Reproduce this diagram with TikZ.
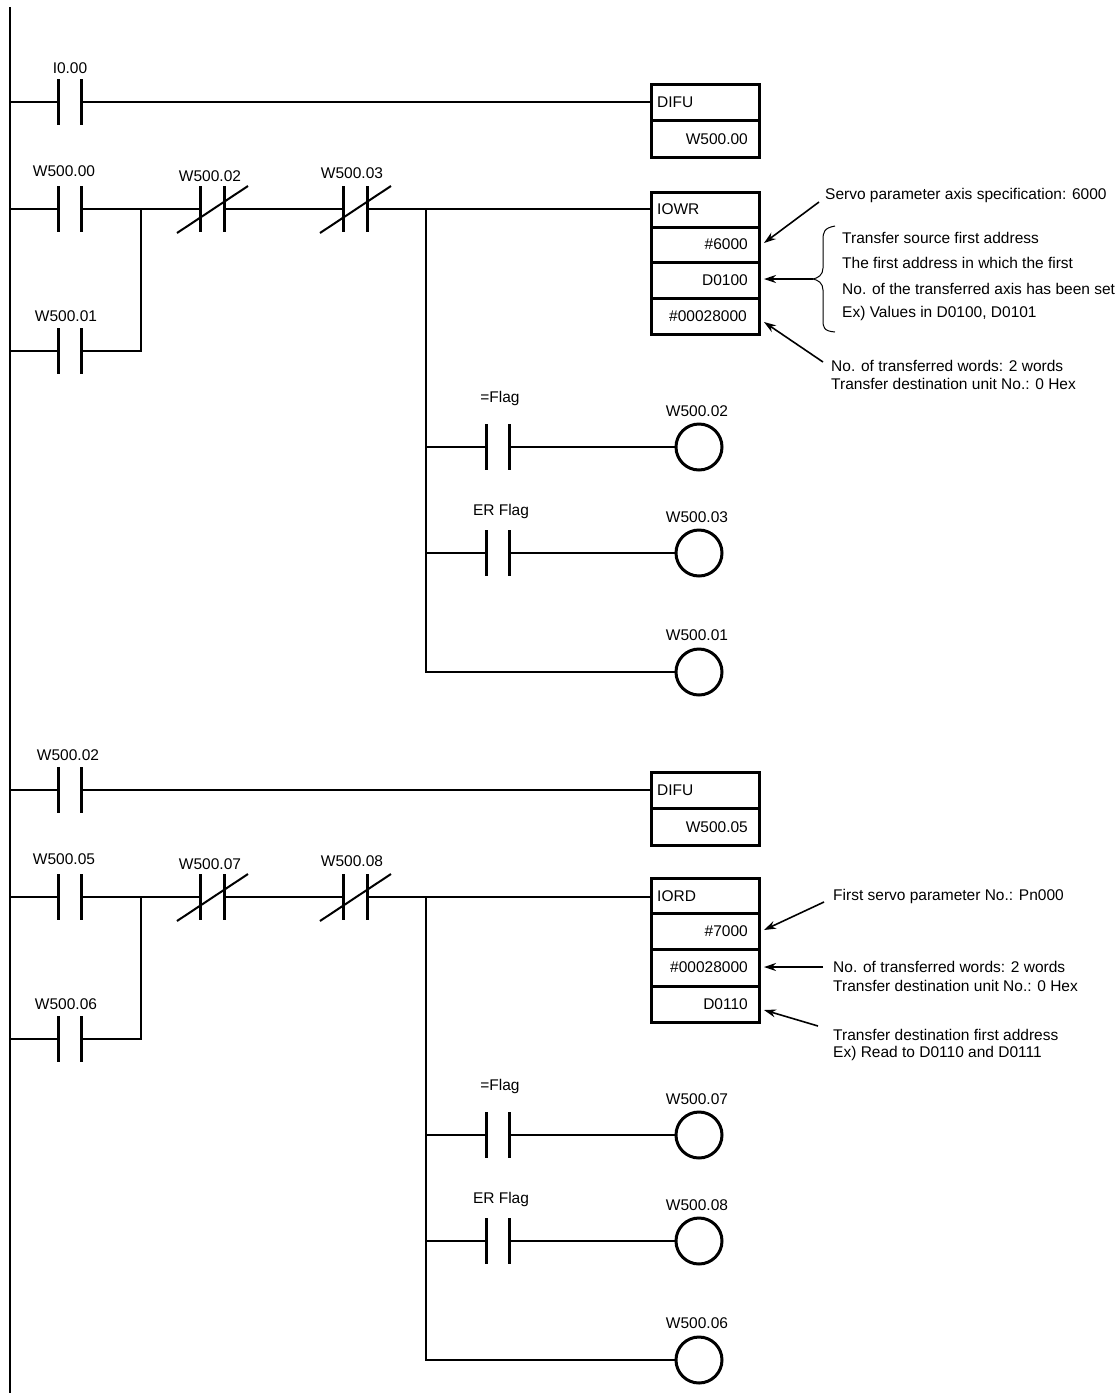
\documentclass[tikz,border=0pt]{standalone}
\usepackage{fontspec}
\setmainfont{Liberation Sans}
\usetikzlibrary{arrows.meta}
\begin{document}
\begin{tikzpicture}[x=1pt,y=-1pt,
  font=\fontsize{15.5}{18}\selectfont,
  wire/.style={line width=1.3pt},
  bar/.style={line width=3pt},
  boxline/.style={line width=3pt},
  coil/.style={circle,draw,line width=3pt,minimum size=46pt,inner sep=0pt},
  lbl/.style={inner sep=0pt,anchor=center},
  note/.style={inner sep=0pt,anchor=west},
  arr/.style={line width=1.6pt,-{Stealth[length=12pt,width=8pt]}},
  no/.pic={\draw[bar] (-11.5,-23)--(-11.5,23); \draw[bar] (11.5,-23)--(11.5,23);},
  nc/.pic={\draw[bar] (-12,-23)--(-12,23); \draw[bar] (12,-23)--(12,23); \draw[line width=2pt] (-35,24)--(36,-23);}
]
\useasboundingbox (0,0) rectangle (1117,1393);
\clip (0,0) rectangle (1117,1393);
\draw[wire] (10,7) -- (10,1393);

\newcommand{\ladderblock}[6]{%
\begin{scope}[yshift=-#6pt]
 % rung 1
 \coordinate (#1r1) at (10,102);
 \pic at (69.5,102) {no};
 \node[lbl] (#1l1) at (68,66) {#2};
 \coordinate (#1d) at (651,102);
 \draw[wire] (#1r1) -- (58,102) (81,102) -- (#1d);
 % rung 2
 \coordinate (#1r2) at (10,209);
 \coordinate (#1r3) at (10,351);
 \pic at (69.5,209) {no};
 \pic at (69.5,351) {no};
 \node[lbl] (#1l2) at (64,171) {#3};
 \node[lbl] (#1l3) at (66,316) {#4};
 \pic at (212,209) {nc};
 \pic at (355,209) {nc};
 \node[lbl] (#1l4) at (210,176) {#5};
 \node[lbl] (#1l5) at (352,173) {#3\hspace{-0pt}};
 \coordinate (#1b) at (141,209);
 \coordinate (#1k) at (426,209);
 \coordinate (#1e) at (651,209);
 \draw[wire] (#1r2) -- (58,209) (81,209) -- (#1b) -- (200,209) (224,209) -- (343,209) (367,209) -- (#1k) -- (#1e);
 \draw[wire] (#1r3) -- (58,351) (81,351) -- (141,351) -- (#1b);
 % outputs
 \pic at (497.5,447) {no};
 \pic at (497.5,553) {no};
 \node[lbl] (#1f1) at (500,398) {=Flag};
 \node[lbl] (#1f2) at (501,511) {ER Flag};
 \node[coil] (#1c1) at (699,447) {};
 \node[coil] (#1c2) at (699,553) {};
 \node[coil] (#1c3) at (699,672) {};
 \node[lbl] (#1cl1) at (697,411) {#5};
 \node[lbl] (#1cl2) at (697,517) {#6lbl};
 \node[lbl] (#1cl3) at (697,635) {#4};
 \draw[wire] (#1k) -- (426,672) -- (#1c3.west);
 \draw[wire] (426,447) -- (486,447) (509,447) -- (#1c1.west);
 \draw[wire] (426,553) -- (486,553) (509,553) -- (#1c2.west);
\end{scope}}

% --- block A written out ---
\begin{scope}
 \coordinate (ar1) at (10,102);
 \pic at (69.5,102) {no};
 \node[lbl] (al1) at (70,68) {I0.00};
 \draw[wire] (ar1) -- (58,102) (81,102) -- (651,102);
 \pic at (69.5,209) {no};
 \pic at (69.5,351) {no};
 \node[lbl] (al2) at (64,171) {W500.00};
 \node[lbl] (al3) at (66,316) {W500.01};
 \pic at (212,209) {nc};
 \pic at (355,209) {nc};
 \node[lbl] (al4) at (210,176) {W500.02};
 \node[lbl] (al5) at (352,173) {W500.03};
 \coordinate (ab) at (141,209);
 \coordinate (ak) at (426,209);
 \draw[wire] (10,209) -- (58,209) (81,209) -- (ab) -- (200,209) (224,209) -- (343,209) (367,209) -- (ak) -- (651,209);
 \draw[wire] (10,351) -- (58,351) (81,351) -- (141,351) -- (ab);
 \pic at (497.5,447) {no};
 \pic at (497.5,553) {no};
 \node[lbl] (af1) at (500,398) {=Flag};
 \node[lbl] (af2) at (501,511) {ER Flag};
 \node[coil] (ac1) at (699,447) {};
 \node[coil] (ac2) at (699,553) {};
 \node[coil] (ac3) at (699,672) {};
 \node[lbl] (acl1) at (697,411) {W500.02};
 \node[lbl] (acl2) at (697,517) {W500.03};
 \node[lbl] (acl3) at (697,635) {W500.01};
 \draw[wire] (ak) -- (426,672) -- (ac3.west);
 \draw[wire] (426,447) -- (486,447) (509,447) -- (ac1.west);
 \draw[wire] (426,553) -- (486,553) (509,553) -- (ac2.west);
 % DIFU
 \draw[boxline] (651,84) rectangle (759,157) (651,120) -- (759,120);
 \node[note] (adifu) at (657,102) {DIFU};
 \node[inner sep=0pt,anchor=east] (adout) at (748,139) {W500.00};
 % IOWR
 \draw[boxline] (651,192) rectangle (759,334) (651,227) -- (759,227) (651,262) -- (759,262) (651,298) -- (759,298);
 \node[note] (aname) at (657,209) {IOWR};
 \node[inner sep=0pt,anchor=east] (ap1) at (748,244) {\#6000};
 \node[inner sep=0pt,anchor=east] (ap2) at (748,280) {D0100};
 \node[inner sep=0pt,anchor=east] (ap3) at (747,316) {\#00028000};
 \node[note] (an1) at (825,195) {Servo parameter axis specification: 6000};
 \draw[arr] (819,202) -- (764,243);
 \node[note] (an2) at (842,238) {Transfer source first address};
 \node[note] (an3) at (842,263) {The first address in which the first};
 \node[note] (an4) at (842,289) {No. of the transferred axis has been set};
 \node[note] (an5) at (842,313) {Ex) Values in D0100, D0101};
 \draw[line width=1pt] (835,226) .. controls (824,228) and (823,232) .. (823,240) -- (823,268) .. controls (823,275) and (818,278) .. (813,279) .. controls (818,280) and (823,283) .. (823,290) -- (823,320) .. controls (823,328) and (824,331) .. (835,332);
 \draw[arr] (813,279) -- (764,279);
 \draw[arr] (823,362) -- (764,322);
 \node[note] (an6) at (831,366) {No. of transferred words: 2 words};
 \node[note] (an7) at (831,384) {Transfer destination unit No.: 0 Hex};
\end{scope}

% --- block B ---
\begin{scope}[yshift=-688pt]
 \coordinate (br1) at (10,102);
 \pic at (69.5,102) {no};
 \node[lbl] (bl1) at (68,67) {W500.02};
 \draw[wire] (br1) -- (58,102) (81,102) -- (651,102);
 \pic at (69.5,209) {no};
 \pic at (69.5,351) {no};
 \node[lbl] (bl2) at (64,171) {W500.05};
 \node[lbl] (bl3) at (66,316) {W500.06};
 \pic at (212,209) {nc};
 \pic at (355,209) {nc};
 \node[lbl] (bl4) at (210,176) {W500.07};
 \node[lbl] (bl5) at (352,173) {W500.08};
 \coordinate (bb) at (141,209);
 \coordinate (bk) at (426,209);
 \draw[wire] (10,209) -- (58,209) (81,209) -- (bb) -- (200,209) (224,209) -- (343,209) (367,209) -- (bk) -- (651,209);
 \draw[wire] (10,351) -- (58,351) (81,351) -- (141,351) -- (bb);
 \pic at (497.5,447) {no};
 \pic at (497.5,553) {no};
 \node[lbl] (bf1) at (500,398) {=Flag};
 \node[lbl] (bf2) at (501,511) {ER Flag};
 \node[coil] (bc1) at (699,447) {};
 \node[coil] (bc2) at (699,553) {};
 \node[coil] (bc3) at (699,672) {};
 \node[lbl] (bcl1) at (697,411) {W500.07};
 \node[lbl] (bcl2) at (697,517) {W500.08};
 \node[lbl] (bcl3) at (697,635) {W500.06};
 \draw[wire] (bk) -- (426,672) -- (bc3.west);
 \draw[wire] (426,447) -- (486,447) (509,447) -- (bc1.west);
 \draw[wire] (426,553) -- (486,553) (509,553) -- (bc2.west);
 \draw[boxline] (651,84) rectangle (759,157) (651,120) -- (759,120);
 \node[note] (bdifu) at (657,102) {DIFU};
 \node[inner sep=0pt,anchor=east] (bdout) at (748,139) {W500.05};
 % IORD
 \draw[boxline] (651,190) rectangle (759,334) (651,225) -- (759,225) (651,261) -- (759,261) (651,298) -- (759,298);
 \node[note] (bname) at (657,208) {IORD};
 \node[inner sep=0pt,anchor=east] (bp1) at (748,243) {\#7000};
 \node[inner sep=0pt,anchor=east] (bp2) at (748,279) {\#00028000};
 \node[inner sep=0pt,anchor=east] (bp3) at (748,316) {D0110};
 \node[note] (bn1) at (833,208) {First servo parameter No.: Pn000};
 \draw[arr] (824,214) -- (764,242);
 \draw[arr] (823,279) -- (764,279);
 \node[note] (bn2) at (833,279) {No. of transferred words: 2 words};
 \node[note] (bn3) at (833,298) {Transfer destination unit No.: 0 Hex};
 \draw[arr] (818,338) -- (764,322);
 \node[note] (bn4) at (833,347) {Transfer destination first address};
 \node[note] (bn5) at (833,365) {Ex) Read to D0110 and D0111};
\end{scope}
\end{tikzpicture}
\end{document}
